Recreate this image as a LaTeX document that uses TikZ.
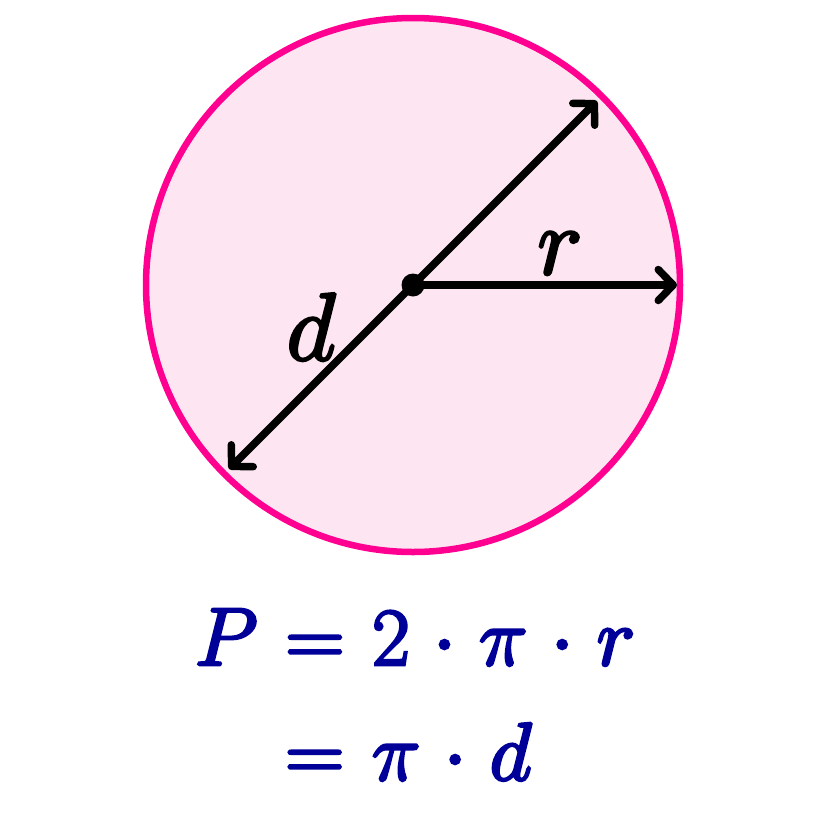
\documentclass[tikz,border=0pt]{standalone}
\usepackage{fix-cm}
\usepackage{amsmath}
\usetikzlibrary{arrows.meta}
\definecolor{ringpink}{HTML}{FF0090}
\definecolor{fillpink}{HTML}{FDE6F2}
\definecolor{eqblue}{HTML}{000099}
\newcommand{\thick}[1]{\special{pdf:literal direct 2 Tr 2.8 w}#1\special{pdf:literal direct 0 Tr 0.4 w}}
\tikzset{
  arr/.style={line width=7.5pt, line cap=round, line join=round,
    -{Straight Barb[length=15pt,width=31pt,line width=7.5pt,round]}},
  lbl/.style={inner sep=0pt, font=\fontsize{96}{110}\selectfont},
  eqtext/.style={eqblue, inner sep=0pt, font=\fontsize{82}{96}\selectfont},
}
\begin{document}
\begin{tikzpicture}[x=1pt,y=-1pt]
\useasboundingbox (0,0) rectangle (828,828);
\draw[ringpink, fill=fillpink, line width=6.5pt] (413,285) circle[radius=267];
\coordinate (c) at (413,285);
\coordinate (ur) at (597,101);
\coordinate (ll) at (229,469);
\coordinate (re) at (677,285);
\draw[arr] (c) -- (ur);
\draw[arr] (c) -- (ll);
\draw[arr] (c) -- (re);
\fill (c) circle[radius=11.5];
\node[lbl, anchor=base] (rl) at (560,274) {\thick{$r$}};
\node[lbl, anchor=base] (dl) at (311,360) {\thick{$d$}};
\node[eqtext, anchor=base] (eq1) at (415,665) {\thick{$\thickmuskip=6.1mu\medmuskip=5.1mu P = 2\cdot\pi\cdot r$}};
\node[eqtext, anchor=base west] (eq2) at (285,780) {\thick{$\thickmuskip=6.1mu\medmuskip=5.1mu = \pi\cdot d$}};
\end{tikzpicture}
\end{document}
